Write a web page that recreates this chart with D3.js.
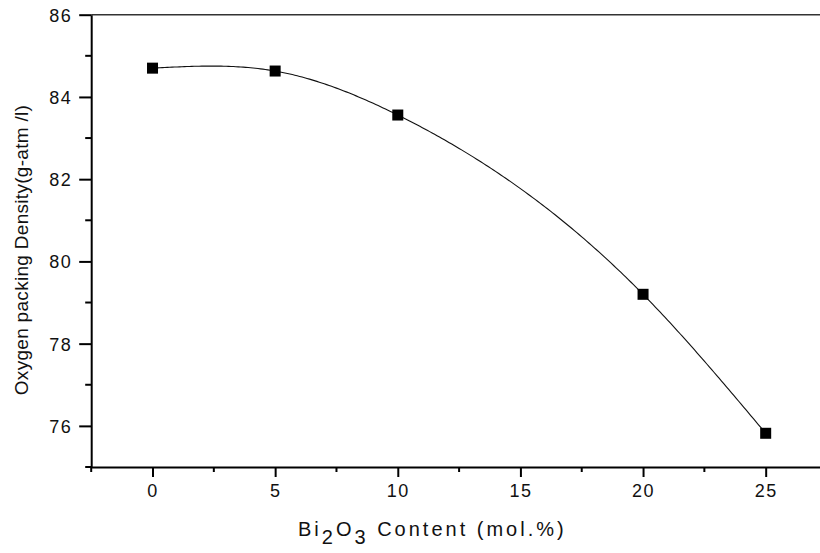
<!DOCTYPE html>
<html>
<head>
<meta charset="utf-8">
<script src="https://cdn.jsdelivr.net/npm/d3@7"></script>
<style>
  html, body { margin: 0; padding: 0; background: #fff; }
  svg { display: block; font-family: "Liberation Sans", Arial, sans-serif; }
</style>
</head>
<body>
<svg id="chart" width="820" height="553"></svg>
<script>
// Bi2O3 content (mol.%) and oxygen packing density (g-atm/l)
const contents = [0, 5, 10, 20, 25];
const densities = [84.70, 84.63, 83.56, 79.20, 75.82];

const xMajorTicks = [0, 5, 10, 15, 20, 25];
const xMinorTicks = [-2.5, 2.5, 7.5, 12.5, 17.5, 22.5, 27.5];
const yMajorTicks = [76, 78, 80, 82, 84, 86];
const yMinorTicks = [75, 77, 79, 81, 83, 85];

const svg = d3.select("#chart");

const x = d3.scaleLinear().domain([-2.5, 27.5]).range([91.2, 827]);
const y = d3.scaleLinear().domain([75, 86]).range([467, 14.7]);

// Natural cubic spline through the measured points, y as a function of x
function naturalSpline(xs, ys) {
  const n = xs.length;
  const h = [], alpha = [0];
  for (let i = 0; i < n - 1; i++) h.push(xs[i + 1] - xs[i]);
  for (let i = 1; i < n - 1; i++)
    alpha.push(3 / h[i] * (ys[i + 1] - ys[i]) - 3 / h[i - 1] * (ys[i] - ys[i - 1]));
  const l = [1], mu = [0], z = [0];
  for (let i = 1; i < n - 1; i++) {
    l[i] = 2 * (xs[i + 1] - xs[i - 1]) - h[i - 1] * mu[i - 1];
    mu[i] = h[i] / l[i];
    z[i] = (alpha[i] - h[i - 1] * z[i - 1]) / l[i];
  }
  const c = new Array(n).fill(0), b = [], d = [];
  for (let j = n - 2; j >= 0; j--) {
    c[j] = (j === 0) ? 0 : z[j] - mu[j] * c[j + 1];
    b[j] = (ys[j + 1] - ys[j]) / h[j] - h[j] * (c[j + 1] + 2 * c[j]) / 3;
    d[j] = (c[j + 1] - c[j]) / (3 * h[j]);
  }
  return function (t) {
    let i = 0;
    while (i < n - 2 && t > xs[i + 1]) i++;
    const dx = t - xs[i];
    return ys[i] + b[i] * dx + c[i] * dx * dx + d[i] * dx * dx * dx;
  };
}

const spline = naturalSpline(contents, densities);
const curveX = d3.range(contents[0], contents[contents.length - 1] + 0.001, 0.1);

svg.append("path")
  .datum(curveX)
  .attr("fill", "none")
  .attr("stroke", "#111")
  .attr("stroke-width", 1.1)
  .attr("d", d3.line().x(d => x(d)).y(d => y(spline(d))));

// Frame: top border
svg.append("line")
  .attr("x1", x(-2.5)).attr("x2", 820)
  .attr("y1", y(86)).attr("y2", y(86))
  .attr("stroke", "#333").attr("stroke-width", 1.5);

// Bottom axis
const xAxis = svg.append("g").attr("transform", `translate(0,${y(75)})`);
xAxis.call(d3.axisBottom(x).tickValues(xMajorTicks).tickSize(10).tickSizeOuter(0).tickFormat(d3.format("d")));
xAxis.selectAll(".tick.minor").data(xMinorTicks).enter().append("line")
  .attr("x1", d => x(d)).attr("x2", d => x(d)).attr("y1", 0).attr("y2", 5)
  .attr("stroke", "#000").attr("stroke-width", 2);

// Left axis
const yAxis = svg.append("g").attr("transform", `translate(${x(-2.5)},0)`);
yAxis.call(d3.axisLeft(y).tickValues(yMajorTicks).tickSize(12).tickSizeOuter(0).tickFormat(d3.format("d")));
yAxis.selectAll(".tick.minor").data(yMinorTicks).enter().append("line")
  .attr("x1", 0).attr("x2", -6).attr("y1", d => y(d)).attr("y2", d => y(d))
  .attr("stroke", "#000").attr("stroke-width", 2);

[xAxis, yAxis].forEach(g => {
  g.select(".domain").attr("stroke", "#000").attr("stroke-width", 2);
  g.selectAll(".tick line").attr("stroke", "#000").attr("stroke-width", 2);
  g.selectAll(".tick text")
    .attr("fill", "#111")
    .style("font-size", "18px")
    .style("letter-spacing", "1.5px")
    .style("font-family", "'Liberation Sans', Arial, sans-serif");
});
xAxis.selectAll(".tick text").attr("dy", null).attr("y", 30);
yAxis.selectAll(".tick text").attr("x", -19).attr("dy", "0.36em");

// Markers
svg.append("g").selectAll("rect")
  .data(contents.map((c, i) => [c, densities[i]]))
  .enter().append("rect")
  .attr("x", d => x(d[0]) - 5.5)
  .attr("y", d => y(d[1]) - 5.5)
  .attr("width", 11).attr("height", 11)
  .attr("fill", "#000");

// Axis titles
svg.append("text")
  .attr("transform", `translate(28,250) rotate(-90)`)
  .attr("text-anchor", "middle")
  .attr("fill", "#111")
  .style("font-size", "19px")
  .style("letter-spacing", "0.3px")
  .text("Oxygen packing Density(g-atm /l)");

const xTitle = svg.append("text")
  .attr("x", 298).attr("y", 536)
  .attr("fill", "#111")
  .style("font-size", "20px")
  .style("letter-spacing", "3px");
xTitle.append("tspan").text("Bi");
xTitle.append("tspan").attr("dy", 8).text("2");
xTitle.append("tspan").attr("dy", -8).text("O");
xTitle.append("tspan").attr("dy", 8).text("3");
xTitle.append("tspan").attr("dy", -8).text(" Content (mol.%)");
</script>
</body>
</html>
